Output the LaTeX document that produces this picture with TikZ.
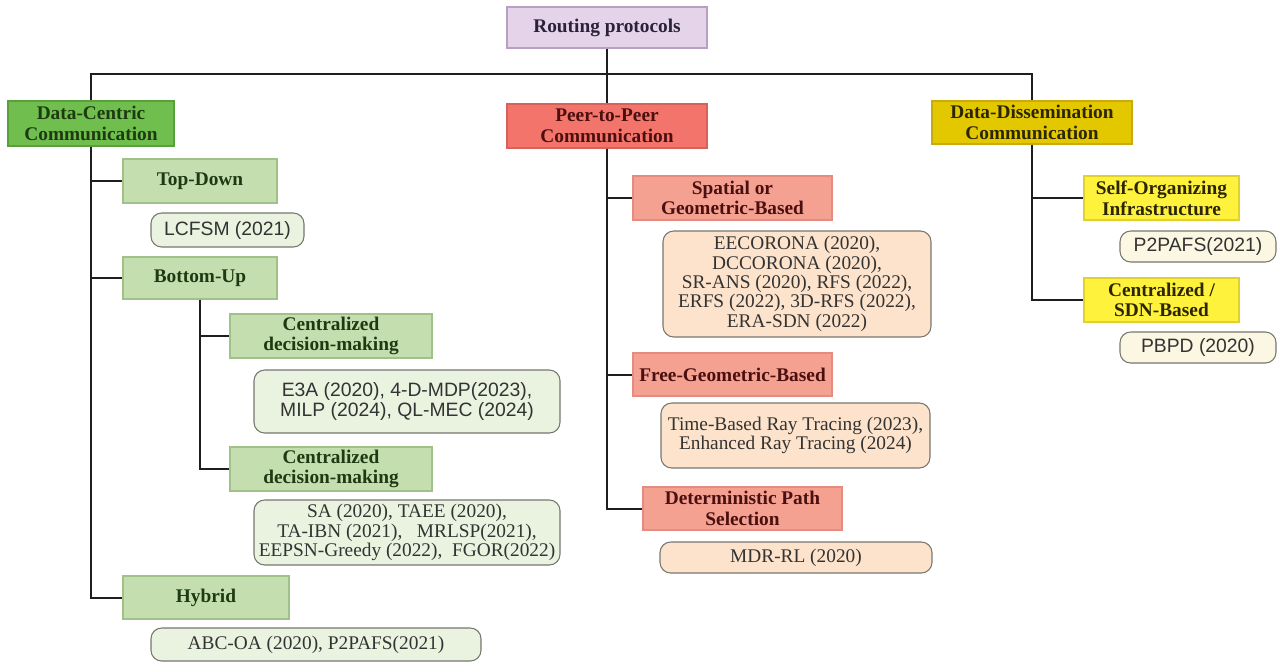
\documentclass[tikz,border=0pt]{standalone}
\usepackage{fontspec}
\setmainfont{Liberation Serif}
\newfontfamily\leafsans{Liberation Sans}
\definecolor{rootlav}{HTML}{E5D3EA}
\definecolor{rootedge}{HTML}{B9A0C2}
\definecolor{roottext}{HTML}{2A2238}
\definecolor{dcgreen}{HTML}{6FBE4E}
\definecolor{dcedge}{HTML}{5A9F3E}
\definecolor{dctext}{HTML}{1E3A12}
\definecolor{ppred}{HTML}{F2746A}
\definecolor{ppedge}{HTML}{D8625A}
\definecolor{pptext}{HTML}{4A0F0F}
\definecolor{ddyel}{HTML}{E3C800}
\definecolor{ddedge}{HTML}{C9AA10}
\definecolor{ddtext}{HTML}{2B2600}
\definecolor{subgreen}{HTML}{C5DEAF}
\definecolor{subgedge}{HTML}{A0C188}
\definecolor{subsalmon}{HTML}{F5A192}
\definecolor{subsedge}{HTML}{E68B80}
\definecolor{subyel}{HTML}{FFF23C}
\definecolor{subyedge}{HTML}{E2D02E}
\definecolor{leafgreen}{HTML}{EAF2E0}
\definecolor{leafpeach}{HTML}{FDE3CB}
\definecolor{leafcream}{HTML}{FBF7E2}
\definecolor{leafline}{HTML}{77776F}
\definecolor{leaftext}{HTML}{333333}
\definecolor{linkgray}{HTML}{1E1E1E}

\begin{document}
\begin{tikzpicture}[x=0.75pt, y=-0.75pt,
  boxsize/.style 2 args={minimum width=#1*0.75pt, minimum height=#2*0.75pt},
  catbox/.style={draw, line width=0.8pt, inner sep=1pt, align=center,
    font=\fontsize{14.5}{15.5}\selectfont\bfseries},
  leafbox/.style={draw=leafline, line width=0.8pt, rounded corners=8pt,
    inner sep=1pt, align=center, text=leaftext,
    font=\fontsize{14.5}{14.5}\selectfont},
  link/.style={draw=linkgray, line width=1.5pt}]

\useasboundingbox (0,0) rectangle (1279,662);

% Root
\node[catbox, fill=rootlav, draw=rootedge, text=roottext, boxsize={200}{41}] (root) at (607,27.5) {Routing protocols};

% --- Main categories ---
\node[catbox, fill=dcgreen, draw=dcedge, text=dctext, boxsize={166}{45}] (dc) at (91,123.5) {Data-Centric\\Communication};
\node[catbox, fill=ppred, draw=ppedge, text=pptext, boxsize={200}{44}] (pp) at (607,126) {Peer-to-Peer\\Communication};
\node[catbox, fill=ddyel, draw=ddedge, text=ddtext, boxsize={200}{43}] (dd) at (1032,122.5) {Data-Dissemination\\Communication};

\coordinate (bus) at (607,74);
\draw[link] (root.south) -- (pp.north);
\draw[link] (dc.north) |- (bus) -| (dd.north);

% --- Data-centric branch ---
\node[catbox, fill=subgreen, draw=subgedge, text=dctext, boxsize={154}{44}] (td) at (200,181) {Top-Down};
\node[leafbox, fill=leafgreen, boxsize={153}{34}, font=\fontsize{14.5}{14.5}\selectfont\leafsans] (lcfsm) at (227.5,230) {LCFSM (2021)};
\node[catbox, fill=subgreen, draw=subgedge, text=dctext, boxsize={154}{42}] (bu) at (200,278) {Bottom-Up};
\node[catbox, fill=subgreen, draw=subgedge, text=dctext, boxsize={202}{44}] (cd1) at (331,336) {Centralized\\decision-making};
\node[leafbox, fill=leafgreen, boxsize={306}{63}, font=\fontsize{14.5}{15}\selectfont\leafsans] (e3a) at (407,401.5) {E3A (2020), 4-D-MDP(2023),\\MILP (2024), QL-MEC (2024)};
\node[catbox, fill=subgreen, draw=subgedge, text=dctext, boxsize={202}{44}] (cd2) at (331,469) {Centralized\\decision-making};
\node[leafbox, fill=leafgreen, boxsize={306}{65}] (sa) at (407,532.5) {SA (2020), TAEE (2020),\\TA-IBN (2021),\ \ \ MRLSP(2021),\\EEPSN-Greedy (2022),\ \ FGOR(2022)};
\node[catbox, fill=subgreen, draw=subgedge, text=dctext, boxsize={166}{43}] (hy) at (206,597.5) {Hybrid};
\node[leafbox, fill=leafgreen, boxsize={330}{33}] (abc) at (316,644.5) {ABC-OA (2020), P2PAFS(2021)};

\draw[link] (dc.south) |- (td.west);
\draw[link] (dc.south) |- (bu.west);
\draw[link] (dc.south) |- (hy.west);
\draw[link] (bu.south) |- (cd1.west);
\draw[link] (bu.south) |- (cd2.west);

% --- Peer-to-peer branch ---
\node[catbox, fill=subsalmon, draw=subsedge, text=pptext, boxsize={199}{44}] (sg) at (732.5,198) {Spatial or\\Geometric-Based};
\node[leafbox, fill=leafpeach, boxsize={268}{106}] (eec) at (797,284) {EECORONA (2020),\\DCCORONA (2020),\\SR-ANS (2020), RFS (2022),\\ERFS (2022), 3D-RFS (2022),\\ERA-SDN (2022)};
\node[catbox, fill=subsalmon, draw=subsedge, text=pptext, boxsize={199}{43}] (fg) at (732.5,374.5) {Free-Geometric-Based};
\node[leafbox, fill=leafpeach, boxsize={269}{65}] (rt) at (795.5,435.5) {Time-Based Ray Tracing (2023),\\Enhanced Ray Tracing (2024)};
\node[catbox, fill=subsalmon, draw=subsedge, text=pptext, boxsize={199}{43}] (dp) at (742.5,508.5) {Deterministic Path\\Selection};
\node[leafbox, fill=leafpeach, boxsize={272}{31}] (mdr) at (796,557.5) {MDR-RL (2020)};

\draw[link] (pp.south) |- (sg.west);
\draw[link] (pp.south) |- (fg.west);
\draw[link] (pp.south) |- (dp.west);

% --- Data-dissemination branch ---
\node[catbox, fill=subyel, draw=subyedge, text=ddtext, boxsize={155}{44}] (so) at (1161.5,198) {Self-Organizing\\Infrastructure};
\node[leafbox, fill=leafcream, boxsize={156}{31}, font=\fontsize{14.5}{14.5}\selectfont\leafsans] (p2p) at (1198,246.5) {P2PAFS(2021)};
\node[catbox, fill=subyel, draw=subyedge, text=ddtext, boxsize={155}{44}] (sdn) at (1161.5,300) {Centralized /\\SDN-Based};
\node[leafbox, fill=leafcream, boxsize={156}{31}, font=\fontsize{14.5}{14.5}\selectfont\leafsans] (pbpd) at (1198,347.5) {PBPD (2020)};

\draw[link] (dd.south) |- (so.west);
\draw[link] (dd.south) |- (sdn.west);

\end{tikzpicture}
\end{document}
